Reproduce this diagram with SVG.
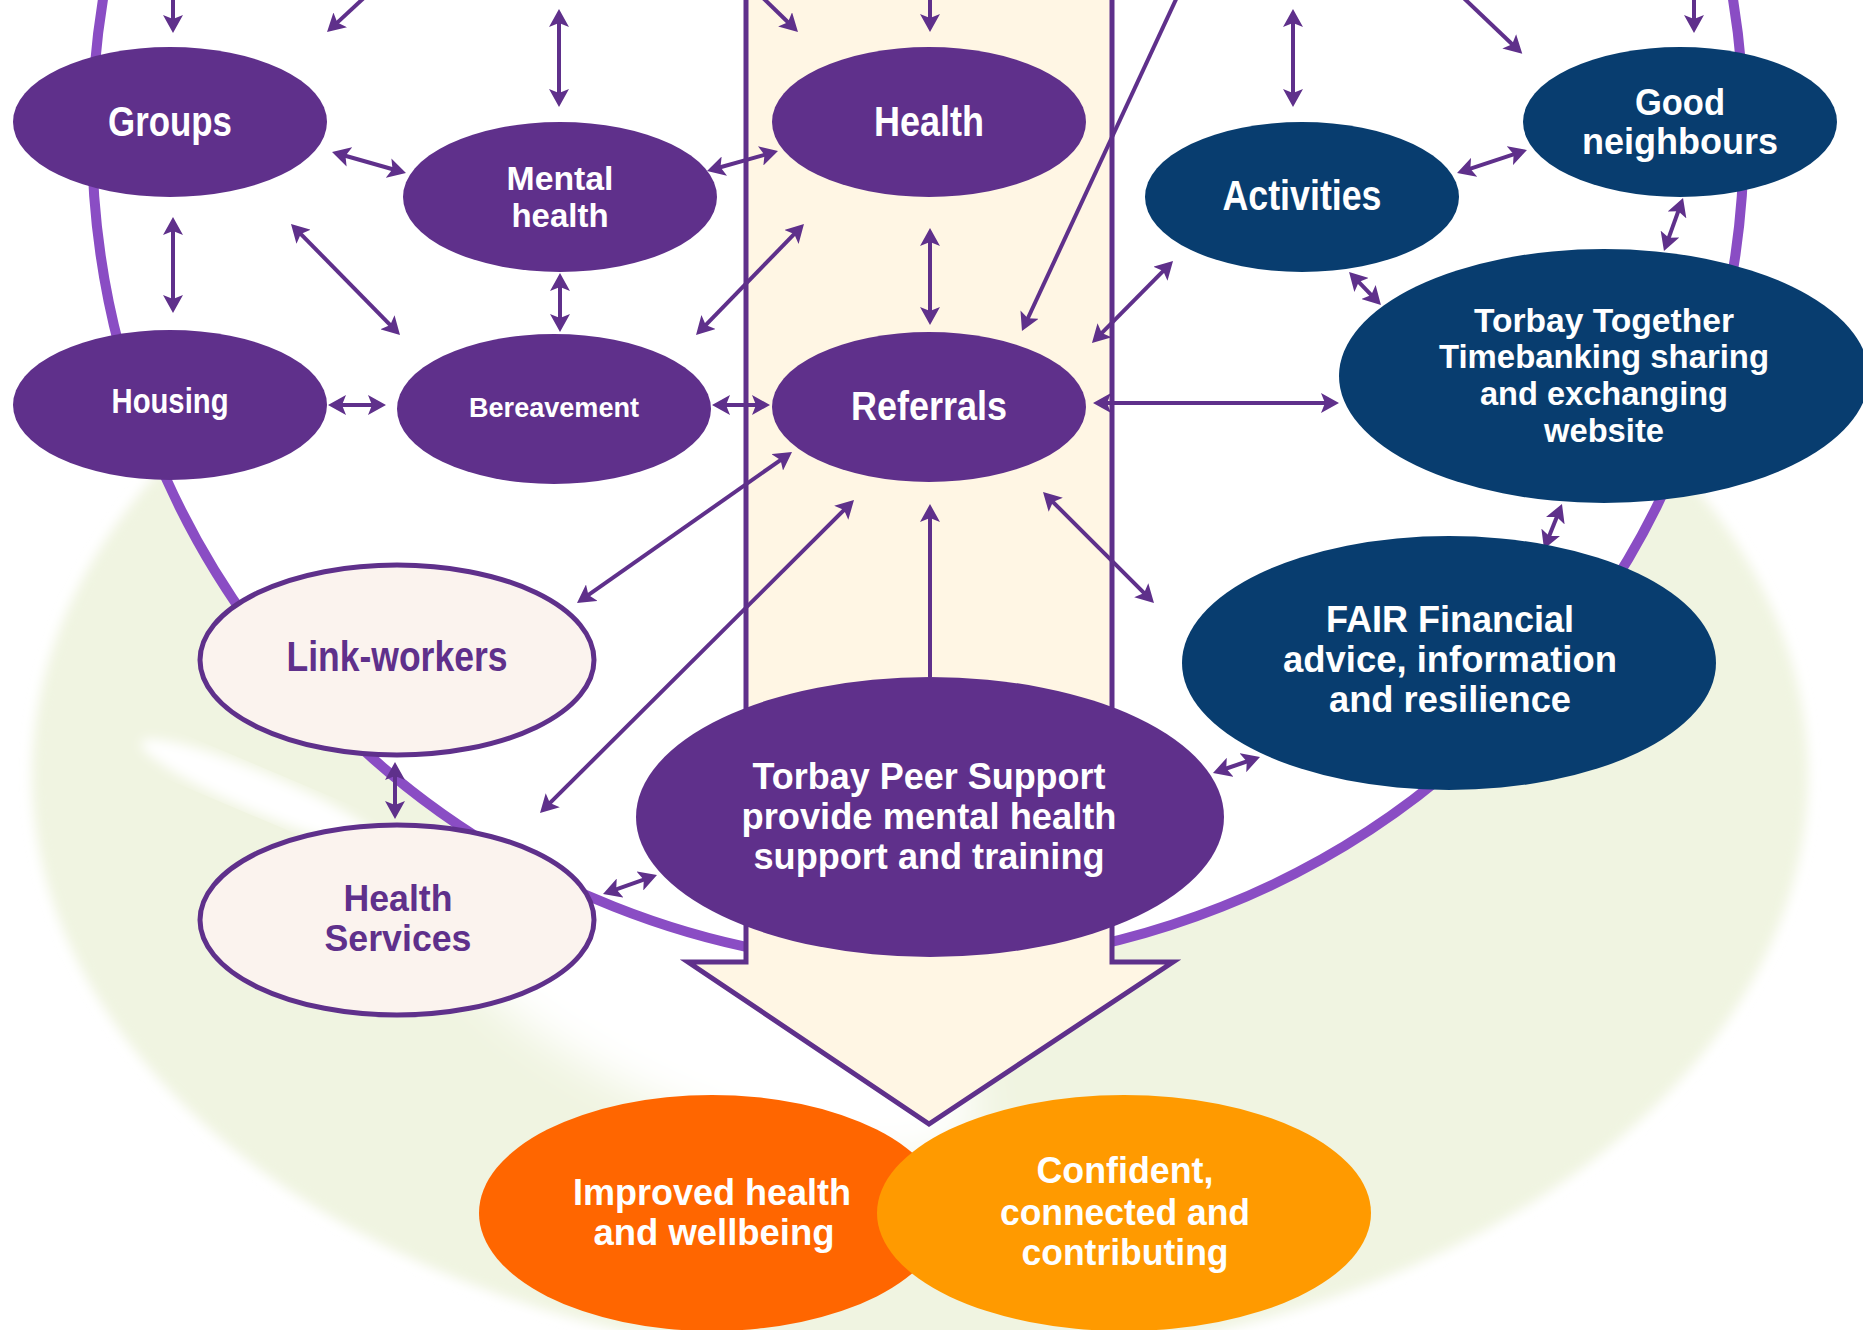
<svg xmlns="http://www.w3.org/2000/svg" width="1863" height="1330" viewBox="0 0 1863 1330">
  <defs>
    <style>
      .pn { fill: #5F308B; }
      .nv { fill: #083D6F; }
      .lt { fill: #FBF3EE; stroke: #5F308B; stroke-width: 5; }
      .tw { fill: #FFFFFF; font-family: "Liberation Sans Narrow", "Liberation Sans", Arial, sans-serif; font-weight: bold; text-anchor: middle; }
      .tp { fill: #5F308B; font-family: "Liberation Sans Narrow", "Liberation Sans", Arial, sans-serif; font-weight: bold; text-anchor: middle; }
      .cn line { stroke: #5F308B; stroke-width: 4; fill: none; }
      .cn line.d { marker-start: url(#ah); marker-end: url(#ah); }
      .cn line.s { marker-end: url(#ah); }
    </style>
    <marker id="ah" viewBox="0 0 18 20" refX="7" refY="10" markerWidth="18" markerHeight="20" markerUnits="userSpaceOnUse" orient="auto-start-reverse">
      <path d="M0,0 L18,10 L0,20 L4,10 Z" fill="#5F308B"/>
    </marker>
    <filter id="soft" x="-10%" y="-10%" width="120%" height="120%">
      <feGaussianBlur stdDeviation="6"/>
    </filter>
    <filter id="haze" x="-30%" y="-30%" width="160%" height="160%">
      <feGaussianBlur stdDeviation="22"/>
    </filter>
  </defs>

  <!-- page and pale green sphere behind the diagram -->
  <rect x="0" y="0" width="1863" height="1330" fill="#FFFFFF"/>
  <ellipse cx="920" cy="775" rx="888" ry="590" fill="#F0F4E1" filter="url(#soft)"/>
  <ellipse cx="261" cy="793" rx="130" ry="20" transform="rotate(23 261 793)" fill="#FFFFFF" filter="url(#soft)"/>
  <ellipse cx="700" cy="1000" rx="300" ry="110" transform="rotate(25 700 1000)" fill="#FFFFFF" filter="url(#haze)"/>

  <!-- community circle -->
  <ellipse id="ring" cx="918" cy="135" rx="826" ry="830" fill="#FFFFFF" stroke="#8A4DC4" stroke-width="10"/>

  <!-- downward arrow column -->
  <polygon id="flow" points="746,-10 746,962 688,962 929,1124 1173,962 1112,962 1112,-10" fill="#FFF6E4" stroke="#5F308B" stroke-width="5" stroke-linejoin="miter"/>

  <!-- connectors -->
  <g id="connectors" class="cn">
    <line class="s" x1="173" y1="-5" x2="173" y2="22"/>
    <line class="s" x1="367" y1="-5" x2="335.1" y2="24.6"/>
    <line class="d" x1="559" y1="20" x2="559" y2="96"/>
    <line class="d" x1="342.6" y1="155" x2="395.4" y2="170"/>
    <line class="d" x1="717.6" y1="168" x2="767.4" y2="154"/>
    <line class="d" x1="173" y1="228" x2="173" y2="302"/>
    <line class="d" x1="298.7" y1="231.8" x2="392.3" y2="327.2"/>
    <line class="d" x1="560" y1="284" x2="560" y2="321"/>
    <line class="d" x1="703.7" y1="327.1" x2="796.3" y2="231.9"/>
    <line class="d" x1="339" y1="405" x2="375" y2="405"/>
    <line class="d" x1="723" y1="405" x2="759" y2="405"/>
    <line class="s" x1="930" y1="-5" x2="930" y2="21"/>
    <line class="s" x1="760" y1="-5" x2="790.1" y2="24.3"/>
    <line class="d" x1="930" y1="239" x2="930" y2="314"/>
    <line class="s" x1="1178" y1="-5" x2="1026.6" y2="321"/>
    <line class="d" x1="1165.3" y1="268.8" x2="1099.7" y2="335.2"/>
    <line class="d" x1="1293" y1="20" x2="1293" y2="96"/>
    <line class="s" x1="1460.5" y1="-5" x2="1514.3" y2="46.2"/>
    <line class="s" x1="1694" y1="-5" x2="1694" y2="22"/>
    <line class="d" x1="1467.5" y1="169.6" x2="1516.5" y2="153.4"/>
    <line class="d" x1="1679.3" y1="208.4" x2="1667.7" y2="240.6"/>
    <line class="d" x1="1356.7" y1="279.9" x2="1373.3" y2="297.1"/>
    <line class="d" x1="1104" y1="403" x2="1328" y2="403"/>
    <line class="d" x1="783" y1="458.3" x2="586" y2="596.7"/>
    <line class="d" x1="846.2" y1="507.8" x2="547.8" y2="805.2"/>
    <line class="s" x1="930" y1="677" x2="930" y2="515"/>
    <line class="d" x1="1050.8" y1="499.8" x2="1146.2" y2="595.2"/>
    <line class="d" x1="395" y1="773" x2="395" y2="808"/>
    <line class="d" x1="613.4" y1="890.3" x2="646.6" y2="878.7"/>
    <line class="d" x1="1223.4" y1="769.5" x2="1249.6" y2="760.5"/>
    <line class="d" x1="1557.9" y1="514.2" x2="1548.1" y2="538.8"/>
  </g>

  <!-- nodes -->
  <g id="groups">
    <ellipse class="pn" cx="170" cy="122" rx="157" ry="75"/>
    <text class="tw" x="170" y="136" font-size="42" textLength="124" lengthAdjust="spacingAndGlyphs">Groups</text>
  </g>
  <g id="mental-health">
    <ellipse class="pn" cx="560" cy="197" rx="157" ry="75"/>
    <text class="tw" x="560" y="190" font-size="34" textLength="107" lengthAdjust="spacingAndGlyphs">Mental</text>
    <text class="tw" x="560" y="227" font-size="34" textLength="97" lengthAdjust="spacingAndGlyphs">health</text>
  </g>
  <g id="housing">
    <ellipse class="pn" cx="170" cy="405" rx="157" ry="75"/>
    <text class="tw" x="170" y="413" font-size="35" textLength="117" lengthAdjust="spacingAndGlyphs">Housing</text>
  </g>
  <g id="bereavement">
    <ellipse class="pn" cx="554" cy="409" rx="157" ry="75"/>
    <text class="tw" x="554" y="417" font-size="28" textLength="170" lengthAdjust="spacingAndGlyphs">Bereavement</text>
  </g>
  <g id="health">
    <ellipse class="pn" cx="929" cy="122" rx="157" ry="75"/>
    <text class="tw" x="929" y="136" font-size="42" textLength="110" lengthAdjust="spacingAndGlyphs">Health</text>
  </g>
  <g id="referrals">
    <ellipse class="pn" cx="929" cy="407" rx="157" ry="75"/>
    <text class="tw" x="929" y="420" font-size="40" textLength="156" lengthAdjust="spacingAndGlyphs">Referrals</text>
  </g>
  <g id="activities">
    <ellipse class="nv" cx="1302" cy="197" rx="157" ry="75"/>
    <text class="tw" x="1302" y="210" font-size="42" textLength="159" lengthAdjust="spacingAndGlyphs">Activities</text>
  </g>
  <g id="good-neighbours">
    <ellipse class="nv" cx="1680" cy="122" rx="157" ry="75"/>
    <text class="tw" x="1680" y="115" font-size="36" textLength="90" lengthAdjust="spacingAndGlyphs">Good</text>
    <text class="tw" x="1680" y="154" font-size="36" textLength="196" lengthAdjust="spacingAndGlyphs">neighbours</text>
  </g>
  <g id="torbay-together">
    <ellipse class="nv" cx="1604" cy="376" rx="265" ry="127"/>
    <text class="tw" x="1604" y="332" font-size="33" textLength="260" lengthAdjust="spacingAndGlyphs">Torbay Together</text>
    <text class="tw" x="1604" y="368" font-size="33" textLength="330" lengthAdjust="spacingAndGlyphs">Timebanking sharing</text>
    <text class="tw" x="1604" y="405" font-size="33" textLength="248" lengthAdjust="spacingAndGlyphs">and exchanging</text>
    <text class="tw" x="1604" y="442" font-size="33" textLength="120" lengthAdjust="spacingAndGlyphs">website</text>
  </g>
  <g id="link-workers">
    <ellipse class="lt" cx="397" cy="660" rx="197" ry="95"/>
    <text class="tp" x="397" y="671" font-size="42" textLength="221" lengthAdjust="spacingAndGlyphs">Link-workers</text>
  </g>
  <g id="health-services">
    <ellipse class="lt" cx="397" cy="920" rx="197" ry="95"/>
    <text class="tp" x="398" y="911" font-size="36" textLength="109" lengthAdjust="spacingAndGlyphs">Health</text>
    <text class="tp" x="398" y="951" font-size="36" textLength="147" lengthAdjust="spacingAndGlyphs">Services</text>
  </g>
  <g id="fair">
    <ellipse class="nv" cx="1449" cy="663" rx="267" ry="127"/>
    <text class="tw" x="1450" y="632" font-size="36" textLength="248" lengthAdjust="spacingAndGlyphs">FAIR Financial</text>
    <text class="tw" x="1450" y="672" font-size="36" textLength="334" lengthAdjust="spacingAndGlyphs">advice, information</text>
    <text class="tw" x="1450" y="712" font-size="36" textLength="242" lengthAdjust="spacingAndGlyphs">and resilience</text>
  </g>
  <g id="peer-support">
    <ellipse class="pn" cx="930" cy="817" rx="294" ry="140"/>
    <text class="tw" x="929" y="789" font-size="36" textLength="353" lengthAdjust="spacingAndGlyphs">Torbay Peer Support</text>
    <text class="tw" x="929" y="829" font-size="36" textLength="375" lengthAdjust="spacingAndGlyphs">provide mental health</text>
    <text class="tw" x="929" y="869" font-size="36" textLength="351" lengthAdjust="spacingAndGlyphs">support and training</text>
  </g>
  <g id="improved-health">
    <ellipse cx="712" cy="1213" rx="233" ry="118" fill="#FF6600"/>
    <text class="tw" x="712" y="1205" font-size="36" textLength="278" lengthAdjust="spacingAndGlyphs">Improved health</text>
    <text class="tw" x="714" y="1245" font-size="36" textLength="241" lengthAdjust="spacingAndGlyphs">and wellbeing</text>
  </g>
  <g id="confident">
    <ellipse cx="1124" cy="1213" rx="247" ry="118" fill="#FF9A00"/>
    <text class="tw" x="1125" y="1183" font-size="36" textLength="177" lengthAdjust="spacingAndGlyphs">Confident,</text>
    <text class="tw" x="1125" y="1225" font-size="36" textLength="250" lengthAdjust="spacingAndGlyphs">connected and</text>
    <text class="tw" x="1125" y="1265" font-size="36" textLength="207" lengthAdjust="spacingAndGlyphs">contributing</text>
  </g>
</svg>
